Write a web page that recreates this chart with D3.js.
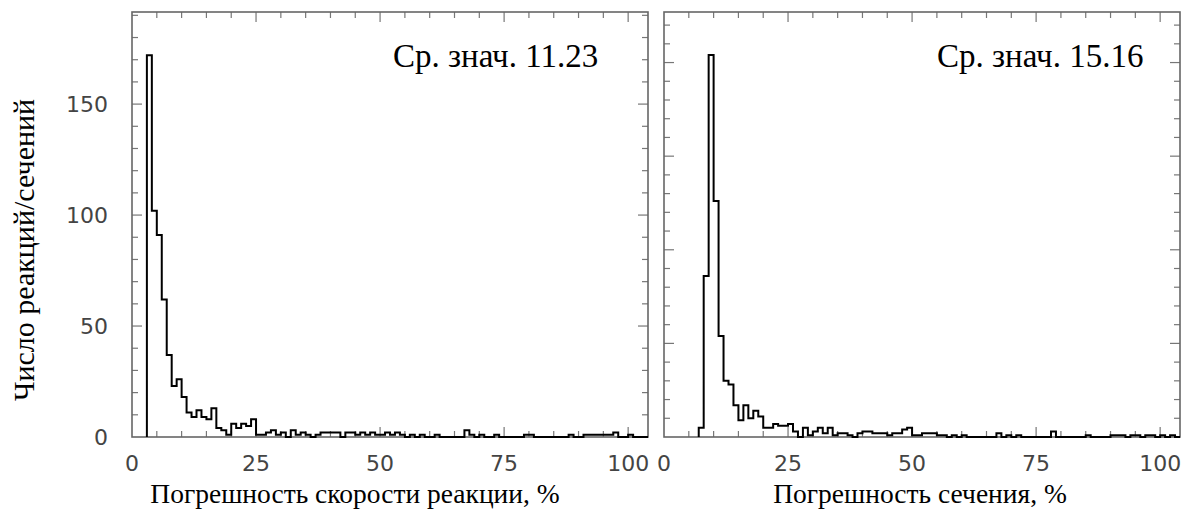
<!DOCTYPE html>
<html>
<head>
<meta charset="utf-8">
<script src="https://cdn.jsdelivr.net/npm/d3@7/dist/d3.min.js"></script>
<style>
  html, body { margin: 0; padding: 0; background: #fff; }
  svg { display: block; }
</style>
</head>
<body>
<svg id="chart" width="1185" height="517"></svg>
<script>
// ---- data (bin width 1, bins start at binStart) ----
const leftBinStart = 3;
const leftCounts = [
  172, 102, 91, 62, 37, 23, 26, 18, 11, 9,      // 3..12
  12, 9, 8, 13, 4, 3, 1, 6, 4, 6,               // 13..22
  5, 8, 1, 1, 2, 3, 1, 2, 0, 3,                 // 23..32
  1, 2, 1, 0, 1, 2, 2, 2, 2, 0,                 // 33..42
  2, 2, 1, 2, 1, 2, 1, 1, 2, 1,                 // 43..52
  2, 1, 0, 1, 0, 1, 0, 0, 1, 0,                 // 53..62
  0, 0, 0, 0, 3, 1, 0, 1, 0, 0,                 // 63..72
  1, 0, 0, 0, 0, 0, 1, 1, 0, 0,                 // 73..82
  0, 0, 0, 0, 0, 1, 0, 0, 1, 1,                 // 83..92
  1, 1, 1, 1, 2, 0, 0, 1, 0                     // 93..101
];
const rightBinStart = 7;
const rightCounts = [
  5, 86, 204, 126, 54, 30, 28, 17, 9, 17,       // 7..16
  10, 14, 11, 5, 5, 7, 6, 6, 7, 3,              // 17..26
  0, 5, 1, 3, 5, 2, 5, 1, 2, 2,                 // 27..36
  1, 0, 2, 3, 3, 2, 2, 2, 1, 2,                 // 37..46
  2, 4, 5, 1, 1, 2, 2, 2, 1, 1,                 // 47..56
  0, 1, 0, 1, 0, 0, 0, 0, 0, 0,                 // 57..66
  2, 0, 1, 0, 1, 0, 0, 0, 0, 0,                 // 67..76
  0, 3, 0, 0, 0, 0, 0, 0, 1, 0,                 // 77..86
  0, 0, 0, 1, 1, 1, 0, 1, 1, 0,                 // 87..96
  1, 1, 0, 1, 0, 1                              // 97..102
];
const meanLeft = "Ср. знач. 11.23";
const meanRight = "Ср. знач. 15.16";
const xTitleLeft = "Погрешность скорости реакции, %";
const xTitleRight = "Погрешность сечения, %";
const yTitle = "Число реакций/сечений";
const xTickLabels = [0, 25, 50, 75, 100];
const yTickLabels = [0, 50, 100, 150];

// ---- layout ----
const svg = d3.select("#chart");
const yTop = 12, yBottom = 437;
const tickFont = "DejaVu Sans, Liberation Sans, Arial, sans-serif";
const serif = "Liberation Serif, Times New Roman, serif";
const panels = [
  { x0: 132, x1: 648, ymax: 191.5, start: leftBinStart, counts: leftCounts, mean: meanLeft, meanX: 393, title: xTitleLeft, titleX: 355, yLabels: true },
  { x0: 664, x1: 1180, ymax: 227, start: rightBinStart, counts: rightCounts, mean: meanRight, meanX: 937, title: xTitleRight, titleX: 920, yLabels: false }
];

panels.forEach(p => {
  const x = d3.scaleLinear().domain([0, 104]).range([p.x0, p.x1]);
  const y = d3.scaleLinear().domain([0, p.ymax]).range([yBottom, yTop]);
  const g = svg.append("g");

  // ticks (inside, all four sides)
  const tickG = g.append("g").attr("stroke", "#777").attr("stroke-width", 1.2);
  d3.range(5, 104, 5).forEach(v => {
    const len = v % 25 === 0 ? 10 : 6;
    tickG.append("line").attr("x1", x(v)).attr("x2", x(v)).attr("y1", yBottom).attr("y2", yBottom - len);
    tickG.append("line").attr("x1", x(v)).attr("x2", x(v)).attr("y1", yTop).attr("y2", yTop + len);
  });
  d3.range(10, p.ymax, 10).forEach(v => {
    const len = v % 50 === 0 ? 10 : 6;
    tickG.append("line").attr("x1", p.x0).attr("x2", p.x0 + len).attr("y1", y(v)).attr("y2", y(v));
    tickG.append("line").attr("x1", p.x1).attr("x2", p.x1 - len).attr("y1", y(v)).attr("y2", y(v));
  });

  // frame
  g.append("rect").attr("x", p.x0).attr("y", yTop).attr("width", p.x1 - p.x0).attr("height", yBottom - yTop)
    .attr("fill", "none").attr("stroke", "#666").attr("stroke-width", 1.6);

  // step histogram
  const pts = [[p.start, 0]];
  p.counts.forEach((c, i) => {
    pts.push([p.start + i, c]);
    pts.push([p.start + i + 1, c]);
  });
  pts.push([p.start + p.counts.length, 0]);
  pts.push([104, 0]);
  const line = d3.line().x(d => x(d[0])).y(d => y(d[1]));
  g.append("path").attr("d", line(pts)).attr("fill", "none").attr("stroke", "#000")
    .attr("stroke-width", 2).attr("stroke-linejoin", "miter");

  // x tick labels
  g.selectAll(".xl").data(xTickLabels).enter().append("text")
    .attr("x", d => x(d)).attr("y", 471).attr("text-anchor", "middle")
    .attr("font-family", tickFont).attr("font-size", 22).attr("fill", "#444")
    .text(d => d);

  // y tick labels
  if (p.yLabels) {
    g.selectAll(".yl").data(yTickLabels).enter().append("text")
      .attr("x", 108).attr("y", d => y(d) + 8).attr("text-anchor", "end")
      .attr("font-family", tickFont).attr("font-size", 22).attr("fill", "#444")
      .text(d => d);
  }

  // mean annotation
  g.append("text").attr("x", p.meanX).attr("y", 67)
    .attr("font-family", serif).attr("font-size", 33).attr("fill", "#000")
    .text(p.mean);

  // x title
  g.append("text").attr("x", p.titleX).attr("y", 503).attr("text-anchor", "middle")
    .attr("font-family", serif).attr("font-size", 27.5).attr("fill", "#000")
    .text(p.title);
});

// y title
svg.append("text").attr("transform", "translate(34,250) rotate(-90)").attr("text-anchor", "middle")
  .attr("font-family", serif).attr("font-size", 30).attr("fill", "#000")
  .text(yTitle);
</script>
</body>
</html>
